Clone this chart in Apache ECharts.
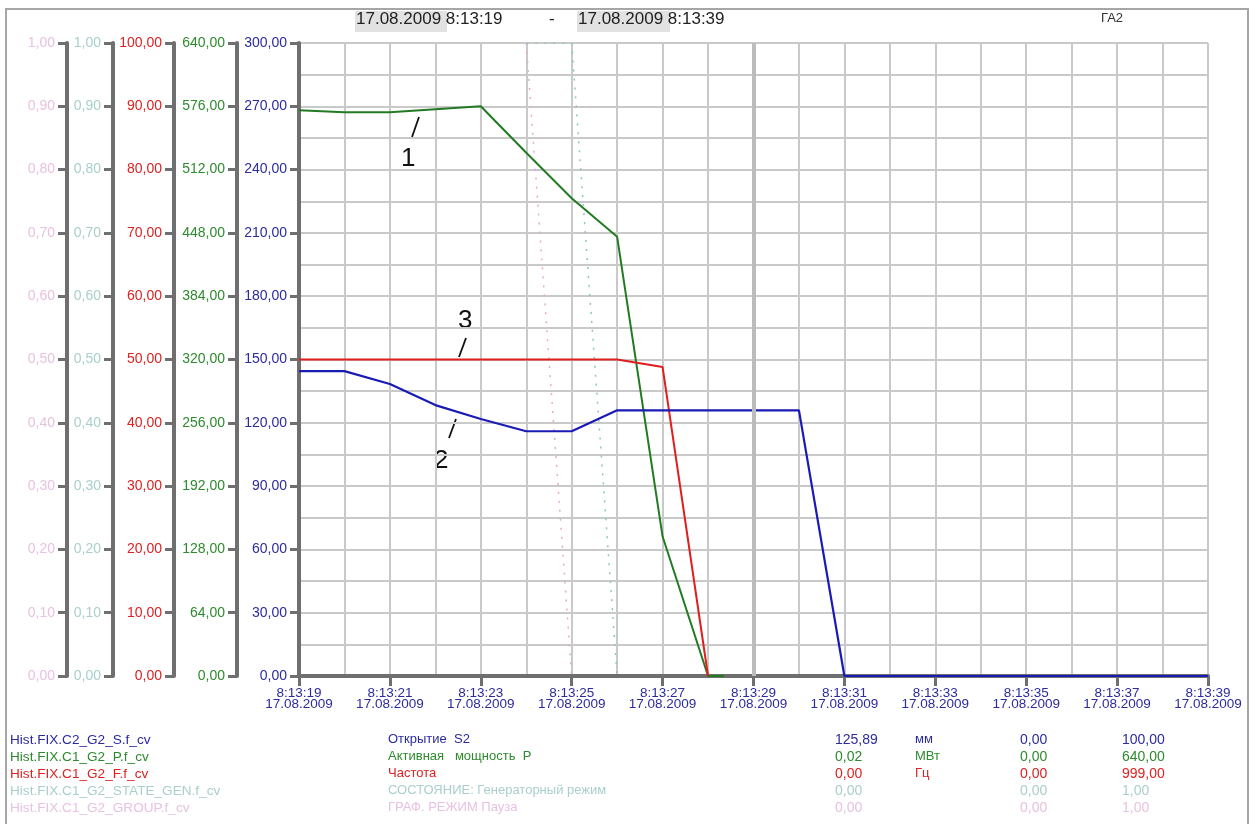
<!DOCTYPE html>
<html>
<head>
<meta charset="utf-8">
<script src="https://cdn.jsdelivr.net/npm/echarts@6/dist/echarts.min.js"></script>
<style>
  html, body { margin: 0; padding: 0; background: #ffffff; }
  #chart { width: 1257px; height: 824px; }
</style>
</head>
<body>
<div id="chart"></div>
<script>
// Time axis: seconds after 17.08.2009 8:13:19, labelled every 2 s
const dateText = '17.08.2009';
const tickLabels = ['8:13:19', '8:13:21', '8:13:23', '8:13:25', '8:13:27', '8:13:29',
                    '8:13:31', '8:13:33', '8:13:35', '8:13:37', '8:13:39'];

// Открытие S2, мм (blue, 0..300 axis)
const openingTime = [0, 1, 2, 3, 4, 5, 6, 7, 8, 9, 10, 11, 12, 13, 14, 15, 16, 17, 18, 19, 20];
const openingS2   = [144.5, 144.5, 138.4, 128.4, 121.8, 116.0, 116.0, 125.89, 125.89, 125.89,
                     125.89, 125.89, 0, 0, 0, 0, 0, 0, 0, 0, 0];

// Активная мощность P, МВт (green, 0..640 axis)
const powerTime = [0, 1, 2, 3, 4, 5, 6, 7, 8, 9, 9.35];
const powerP    = [572, 570, 570, 573, 576, 529, 483, 444, 141, 0, 0];

// Частота, Гц (red, 0..100 axis)
const freqTime = [0, 1, 2, 3, 4, 5, 6, 7, 8, 9];
const freqF    = [50, 50, 50, 50, 50, 50, 50, 50, 48.8, 0];

// Discrete state signals (0..1 axes)
const stateTime = [5, 6, 7];
const stateGen  = [1, 1, 0];
const modeTime  = [5, 6];
const modePause = [1, 0];

// Legend table rows
const tagNames   = ['Hist.FIX.C2_G2_S.f_cv', 'Hist.FIX.C1_G2_P.f_cv', 'Hist.FIX.C1_G2_F.f_cv',
                    'Hist.FIX.C1_G2_STATE_GEN.f_cv', 'Hist.FIX.C1_G2_GROUP.f_cv'];
const tagDescs   = ['Открытие  S2', 'Активная   мощность  P', 'Частота',
                    'СОСТОЯНИЕ: Генераторный режим', 'ГРАФ. РЕЖИМ Пауза'];
const curValues  = ['125,89', '0,02', '0,00', '0,00', '0,00'];
const unitNames  = ['мм', 'МВт', 'Гц', '', ''];
const minValues  = ['0,00', '0,00', '0,00', '0,00', '0,00'];
const maxValues  = ['100,00', '640,00', '999,00', '1,00', '1,00'];

// Markers placed at the three curves
const curveMarks = ['1', '2', '3'];

const BLUE = '#1a1ab4', GREEN = '#237a23', RED = '#e01e1e';
const TEAL = '#8cc4bf', PINK = '#e2a8da';
const TXT_BLUE = '#2b2ba0', TXT_GREEN = '#2e8a2e', TXT_RED = '#dd2222';
const TXT_TEAL = '#a9cfcc', TXT_PINK = '#e8c2e2';
const AX = '#6f6f6f', GRID = '#c9c9c9';
const FONT = '"Liberation Sans", Arial, sans-serif';

const zip = (xs, ys) => xs.map((x, i) => [x, ys[i]]);
const comma = v => v.toFixed(2).replace('.', ',');

function yAxis(max, color, offset, withGrid) {
  return {
    type: 'value', position: 'left', offset: offset,
    min: 0, max: max, interval: max / 10,
    axisLine: { show: true, lineStyle: { color: AX, width: 4 } },
    axisTick: { show: true, length: 9, lineStyle: { color: AX, width: 3 } },
    axisLabel: { color: color, fontSize: 14, fontFamily: FONT, margin: 12, formatter: comma },
    splitLine: { show: withGrid, lineStyle: { color: GRID, width: 2 } },
    minorTick: { show: false, splitNumber: 2 },
    minorSplitLine: { show: withGrid, lineStyle: { color: GRID, width: 2 } }
  };
}

const chart = echarts.init(document.getElementById('chart'), null, { renderer: 'canvas' });

const rowY = [741, 758, 775, 792, 809];
const rowColors = [TXT_BLUE, TXT_GREEN, TXT_RED, TXT_TEAL, TXT_PINK];
const tableCols = [
  { x: 10, list: tagNames, size: 13.6 },
  { x: 388, list: tagDescs, size: 13 },
  { x: 835, list: curValues, size: 14 },
  { x: 915, list: unitNames, size: 13 },
  { x: 1020, list: minValues, size: 14 },
  { x: 1122, list: maxValues, size: 14 }
];
const tableTexts = [];
tableCols.forEach(col => {
  col.list.forEach((t, i) => {
    tableTexts.push({
      type: 'text', left: col.x, top: rowY[i] - 8,
      style: { text: t, fill: rowColors[i], font: col.size + 'px ' + FONT }
    });
  });
});

const graphics = [
  // outer frame
  { type: 'rect', shape: { x: 6, y: 9, width: 1242, height: 830 },
    style: { fill: 'none', stroke: '#a6a6a6', lineWidth: 2 }, silent: true },
  // period header
  { type: 'rect', shape: { x: 355, y: 11, width: 92, height: 21 }, style: { fill: '#e2e2e2' } },
  { type: 'rect', shape: { x: 577, y: 11, width: 93, height: 21 }, style: { fill: '#e2e2e2' } },
  { type: 'text', left: 356, top: 11,
    style: { text: dateText + ' ' + tickLabels[0], fill: '#222', font: '17px ' + FONT } },
  { type: 'text', left: 549, top: 11, style: { text: '-', fill: '#222', font: '17px ' + FONT } },
  { type: 'text', left: 578, top: 11,
    style: { text: dateText + ' ' + tickLabels[tickLabels.length - 1], fill: '#222', font: '17px ' + FONT } },
  { type: 'text', left: 1101, top: 12, style: { text: 'ГА2', fill: '#333', font: '13px ' + FONT } },
  // curve markers
  { type: 'line', shape: { x1: 412, y1: 137, x2: 419, y2: 117 }, style: { stroke: '#111', lineWidth: 1.8 } },
  { type: 'text', left: 401, top: 146, style: { text: curveMarks[0], fill: '#111', font: '26px ' + FONT } },
  { type: 'line', shape: { x1: 449, y1: 438, x2: 456, y2: 419 }, style: { stroke: '#111', lineWidth: 1.8 } },
  { type: 'text', left: 434, top: 448, style: { text: curveMarks[1], fill: '#111', font: '26px ' + FONT } },
  { type: 'line', shape: { x1: 459, y1: 357, x2: 466, y2: 338 }, style: { stroke: '#111', lineWidth: 1.8 } },
  { type: 'text', left: 458, top: 308, style: { text: curveMarks[2], fill: '#111', font: '26px ' + FONT } }
].concat(tableTexts);

chart.setOption({
  backgroundColor: '#ffffff',
  animation: false,
  grid: { left: 299, right: 49, top: 43, bottom: 148, containLabel: false },
  xAxis: {
    type: 'value', min: 0, max: 20, interval: 2,
    axisLine: { show: true, onZero: false, lineStyle: { color: AX, width: 4 } },
    axisTick: { show: true, length: 10, lineStyle: { color: AX, width: 3 } },
    axisLabel: {
      color: TXT_BLUE, fontSize: 13.5, fontFamily: FONT, lineHeight: 11, margin: 12,
      formatter: v => tickLabels[Math.round(v / 2)] + '\n' + dateText
    },
    splitLine: { show: true, lineStyle: { color: GRID, width: 2 } },
    minorTick: { show: false, splitNumber: 2 },
    minorSplitLine: { show: true, lineStyle: { color: GRID, width: 2 } }
  },
  yAxis: [
    yAxis(300, TXT_BLUE, 0, true),     // 0: Открытие S2
    yAxis(640, TXT_GREEN, 62, false),  // 1: Активная мощность
    yAxis(100, TXT_RED, 125, false),   // 2: Частота
    yAxis(1, TXT_TEAL, 186, false),    // 3: СОСТОЯНИЕ
    yAxis(1, TXT_PINK, 232, false)     // 4: РЕЖИМ
  ],
  series: [
    {
      name: tagDescs[4], type: 'line', yAxisIndex: 4, z: 1,
      data: zip(modeTime, modePause), symbol: 'none',
      lineStyle: { color: PINK, width: 1.5, type: [2, 7] },
      markLine: {
        silent: true, symbol: 'none', label: { show: false },
        lineStyle: { color: '#bcbcbc', width: 4, type: 'solid' },
        data: [{ xAxis: 10 }]
      }
    },
    {
      name: tagDescs[3], type: 'line', yAxisIndex: 3, z: 1,
      data: zip(stateTime, stateGen), symbol: 'none',
      lineStyle: { color: TEAL, width: 1.5, type: [2, 7] }
    },
    {
      name: tagDescs[1], type: 'line', yAxisIndex: 1, z: 3,
      data: zip(powerTime, powerP), symbol: 'none',
      lineStyle: { color: GREEN, width: 2 }
    },
    {
      name: tagDescs[2], type: 'line', yAxisIndex: 2, z: 3,
      data: zip(freqTime, freqF), symbol: 'none',
      lineStyle: { color: RED, width: 2 }
    },
    {
      name: tagDescs[0], type: 'line', yAxisIndex: 0, z: 4,
      data: zip(openingTime, openingS2), symbol: 'none',
      lineStyle: { color: BLUE, width: 2.2 }
    }
  ],
  graphic: graphics
});
</script>
</body>
</html>
